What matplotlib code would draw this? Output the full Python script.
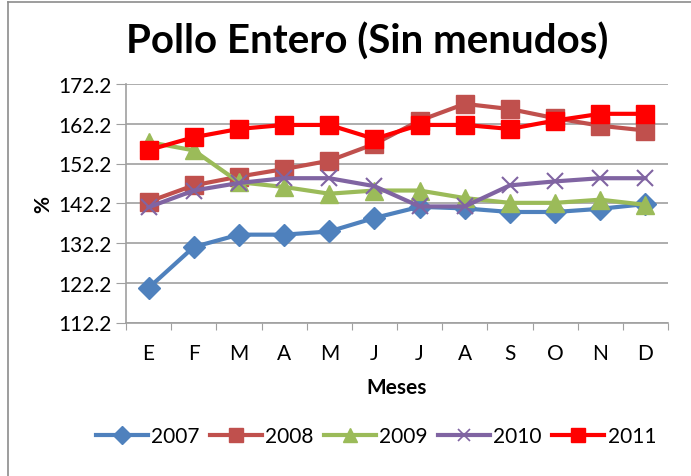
import numpy as np
import matplotlib
matplotlib.use('Agg')
import matplotlib.pyplot as plt
from matplotlib.lines import Line2D

plt.rcParams['font.family'] = ['Lato', 'DejaVu Sans']

meses = ['E', 'F', 'M', 'A', 'M', 'J', 'J', 'A', 'S', 'O', 'N', 'D']
y2007 = [120.9, 131.2, 134.3, 134.3, 135.1, 138.5, 141.3, 140.9, 140.0, 140.0, 140.8, 142.0]
y2008 = [142.6, 146.7, 148.9, 150.8, 152.9, 157.1, 163.0, 167.2, 165.9, 163.6, 161.7, 160.5]
y2009 = [157.6, 155.5, 147.5, 146.3, 144.6, 145.4, 145.4, 143.5, 142.3, 142.3, 143.1, 141.8]
y2010 = [141.2, 145.4, 147.3, 148.5, 148.5, 146.5, 141.4, 141.4, 146.7, 147.7, 148.5, 148.5]
y2011 = [155.6, 158.8, 160.9, 161.9, 161.9, 158.4, 161.9, 161.9, 160.9, 163.0, 164.7, 164.7]

series = [
    ('2007', y2007, '#4F81BD', 'D', 11),
    ('2008', y2008, '#C0504D', 's', 12.5),
    ('2009', y2009, '#9BBB59', '^', 12.5),
    ('2010', y2010, '#8064A2', 'x', 11),
    ('2011', y2011, '#FF0000', 's', 12.5),
]

fig = plt.figure(figsize=(6.91, 4.77), dpi=100)
ax = fig.add_axes([126 / 691, 1 - 323.5 / 477, (668 - 126) / 691, (323.5 - 85) / 477])

# borde del grafico (solo izquierda y arriba visibles)
fig.add_artist(Line2D([8 / 691, 8 / 691], [0, 1 - 3 / 477], color='#8c8c8c', lw=1.2))
fig.add_artist(Line2D([8 / 691, 1], [1 - 3 / 477, 1 - 3 / 477], color='#8c8c8c', lw=1.2))

x = np.arange(len(meses))
for nombre, vals, col, mk, ms in series:
    kw = dict(markeredgewidth=1.5) if mk == 'x' else dict(markeredgecolor=col)
    ax.plot(x, vals, color=col, lw=3, marker=mk, markersize=ms, label=nombre, **kw)

ax.set_xlim(-0.5, 11.5)
ax.set_ylim(112.2, 172.2)
yt = np.arange(112.2, 172.3, 10)
ax.set_yticks(yt)
ax.set_yticklabels([f'{v:.1f}' for v in yt], fontsize=15)
ax.set_xticks(np.arange(-0.5, 12, 1))
ax.set_xticklabels([])
ax.set_xticks(x, minor=True)
ax.set_xticklabels(meses, minor=True, fontsize=15)
ax.tick_params(axis='x', which='major', length=5, color='#a0a0a0')
ax.tick_params(axis='x', which='minor', length=0, pad=15)
ax.tick_params(axis='y', length=7, color='#a0a0a0', pad=3)
ax.grid(axis='y', color='#a0a0a0', lw=1.2)
ax.set_axisbelow(True)
for s in ['top', 'right']:
    ax.spines[s].set_visible(False)
for s in ['left', 'bottom']:
    ax.spines[s].set_color('#a0a0a0')
    ax.spines[s].set_linewidth(1.2)

ax.set_ylabel('%', fontsize=15, fontweight='bold', labelpad=4)
ax.set_xlabel('Meses', fontsize=15, fontweight='bold', labelpad=10)
fig.text(367 / 691, 1 - 42 / 477, 'Pollo Entero (Sin menudos)', ha='center', va='center',
         fontsize=29, fontweight='bold')

handles = []
for nombre, vals, col, mk, ms in series:
    kw = dict(markeredgewidth=1.2) if mk == 'x' else dict(markeredgecolor=col)
    handles.append(Line2D([], [], color=col, lw=3, marker=mk, markersize=ms * 0.85, **kw))
fig.legend(handles, [s[0] for s in series], loc='center', bbox_to_anchor=(376 / 691, 1 - 437 / 477),
           ncol=5, frameon=False, fontsize=15, handlelength=2.5, handletextpad=0.15,
           columnspacing=0.5)

fig.savefig('out.png', dpi=100)
